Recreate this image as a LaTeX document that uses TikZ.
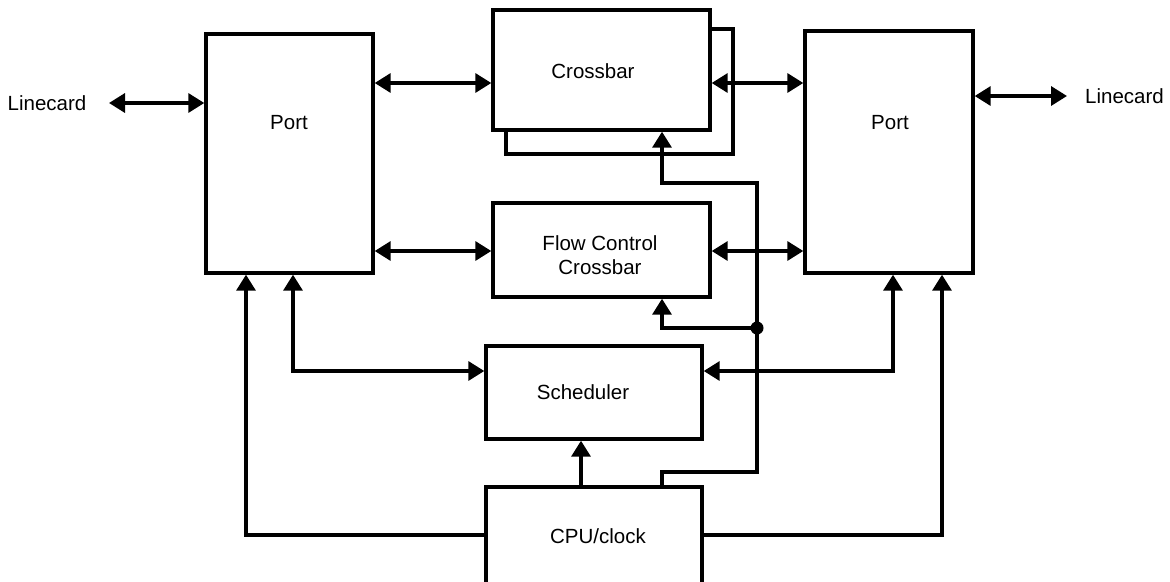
\documentclass[tikz,border=0pt]{standalone}
\usepackage{fontspec}
\setmainfont{Liberation Sans}
\usetikzlibrary{arrows.meta}
\begin{document}
\begin{tikzpicture}[x=1pt,y=-1pt,
  line width=3.4pt,
  box/.style={draw,rectangle,inner sep=0pt,minimum width=#1},
  lbl/.style={font=\fontsize{20.5}{24}\selectfont,inner sep=0pt,anchor=base},
  arr/.style={-{Triangle[length=16pt,width=19pt]}},
  dbl/.style={{Triangle[length=16pt,width=19pt]}-{Triangle[length=16pt,width=19pt]}}]
\clip (0,0) rectangle (1170,581);
\fill[white] (0,0) rectangle (1170,581);
% boxes
\node[box=167pt,minimum height=239pt] (LP) at (289.5,153.5) {};
\node[box=168pt,minimum height=242pt] (RP) at (889,152) {};
\draw (710,29) -- (733,29) -- (733,154) -- (506,154) -- (506,130);
\node[box=217pt,minimum height=120pt,fill=white] (CB) at (601.5,70) {};
\node[box=217pt,minimum height=94pt] (FC) at (601.5,250) {};
\node[box=216pt,minimum height=93pt] (SC) at (594,392.5) {};
\node[box=216pt,minimum height=113pt] (CPU) at (594,543.5) {};
% labels
\node[lbl] (tLP) at (289,129) {Port};
\node[lbl] (tRP) at (890,129) {Port};
\node[lbl] (tCB) at (593,78) {Crossbar};
\node[lbl,anchor=center,align=center] (tFC) at (600,255) {Flow Control\\Crossbar};
\node[lbl] (tSC) at (583,399) {Scheduler};
\node[lbl] (tCPU) at (598,543) {CPU/clock};
\node[lbl] (tLL) at (47,110) {Linecard};
\node[lbl] (tRL) at (1124.5,103) {Linecard};
% helper coordinates
\coordinate (r1) at (0,83);
\coordinate (r2) at (0,251);
\coordinate (llc) at (109,103);
\coordinate (rlc) at (1067,96);
\coordinate (a1) at (293,371);
\coordinate (a2) at (246,535);
\coordinate (a3) at (893,371);
\coordinate (a4) at (942,535);
\coordinate (a5) at (581,487);
\coordinate (b0) at (662,472);
\coordinate (b1) at (757,472);
\coordinate (b2) at (757,183);
\coordinate (b3) at (662,183);
\coordinate (dot) at (757,328);
\coordinate (b4) at (662,328);
% connectors
\draw[dbl] (llc) -- (llc -| LP.west);
\draw[dbl] (RP.east |- rlc) -- (rlc);
\draw[dbl] (LP.east |- r1) -- (CB.west |- r1);
\draw[dbl] (CB.east |- r1) -- (RP.west |- r1);
\draw[dbl] (LP.east |- r2) -- (FC.west |- r2);
\draw[dbl] (FC.east |- r2) -- (RP.west |- r2);
\draw[dbl] (a1 |- LP.south) -- (a1) -- (a1 -| SC.west);
\draw[dbl] (a3 |- RP.south) -- (a3) -- (a3 -| SC.east);
\draw[arr] (a2 -| CPU.west) -- (a2) -- (a2 |- LP.south);
\draw[arr] (a4 -| CPU.east) -- (a4) -- (a4 |- RP.south);
\draw[arr] (a5 |- CPU.north) -- (a5 |- SC.south);
\draw[arr] (b0 |- CPU.north) -- (b0) -- (b1) -- (b2) -- (b3) -- (b3 |- CB.south);
\fill (dot) circle (6.5);
\draw[arr] (dot) -- (b4) -- (b4 |- FC.south);
\end{tikzpicture}
\end{document}
